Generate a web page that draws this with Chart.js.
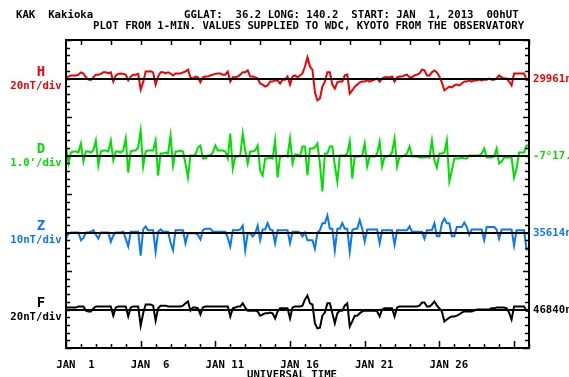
<!DOCTYPE html>
<html>
<head>
<meta charset="utf-8">
<style>
  html, body { margin: 0; padding: 0; background: #fff; }
  canvas { display: block; }
</style>
<script src="https://cdn.jsdelivr.net/npm/chart.js@4.4.1/dist/chart.umd.min.js"></script>
</head>
<body>
<canvas id="magChart" width="569" height="377"></canvas>
<script>
// KAK Kakioka, January 2013 - values every 4 hours (deviation from base value)
const STEP_HOURS = 4;
const TOTAL_HOURS = 744;

const H_NT = [
  3,5,8,8,8,10,16,13,3,-3,
  -4,3,10,10,12,16,16,14,16,-8,
  8,12,13,12,10,-5,5,10,10,12,
  -29,-10,18,18,19,16,-16,5,16,16,
  14,16,13,8,13,13,13,16,18,23,
  3,0,5,3,-10,3,5,5,8,10,
  12,13,13,10,10,18,-8,3,3,5,
  10,16,16,21,5,5,3,0,-13,-16,
  -21,-18,-8,-8,-5,-5,-13,-3,-3,5,
  -16,5,8,3,8,13,31,55,31,23,
  -36,-57,-52,-21,-8,16,16,-16,-26,-10,
  -8,-8,8,10,-39,-31,-21,-16,-10,-8,
  -8,-5,-8,-5,-3,0,-8,0,3,3,
  3,5,-8,3,5,5,8,10,3,3,
  8,10,13,23,21,8,8,16,21,16,
  5,-10,-31,-26,-21,-23,-18,-16,-18,-13,
  -8,-8,-5,-8,-5,-5,-3,-5,-3,-3,
  0,-3,-3,0,8,3,0,0,-8,-18,
  13,13,13,13,13,-3,-3
];

const D_MIN = [
  1.30,-1.04,0.39,0.52,0.52,0.39,1.56,-0.78,0.52,0.52,
  0.39,0.65,1.95,-1.30,0.52,0.65,0.65,0.52,1.95,-0.65,
  0.52,0.52,0.39,0.65,2.21,-2.21,0.52,0.65,0.65,1.04,
  3.25,-1.43,0.52,0.65,0.65,0.65,1.95,-2.60,0.26,0.26,
  0.39,0.26,2.60,-1.30,0.52,0.52,0.65,0.52,-1.04,-2.86,
  0,0,0.13,1.04,1.30,-0.39,-0.39,0,0,0.39,
  1.30,0.65,0.65,0.65,0.52,-0.39,2.86,-1.69,-0.13,-0.13,
  0,2.86,0.65,-1.04,0.52,0.52,0.65,1.30,-1.95,-2.60,
  -0.39,-0.39,-0.26,-0.39,1.95,-2.86,-0.13,-0.13,0,-0.13,
  2.21,-1.04,0.13,0.13,-0.13,1.17,1.17,-2.60,0.91,0.91,
  1.04,1.56,-1.04,-4.68,0.26,0.26,1.17,1.17,-1.30,-3.38,
  0,0,0,0.26,1.82,-2.99,-0.13,-0.13,-0.13,0,
  1.56,-1.43,-0.13,-0.13,-0.13,0.26,1.82,-1.43,-0.13,-0.13,
  0,0.39,2.21,-1.43,-0.13,-0.13,0,0.26,1.17,-0.13,
  -0.13,-0.13,-0.26,-0.26,-0.26,-0.13,-0.26,1.95,-0.65,-1.56,
  0.26,0.26,0.39,1.95,-3.38,-1.95,-0.39,-0.39,-0.39,-0.26,
  -0.39,-0.39,0,0,0,0,0,0.26,0.91,-0.26,
  -0.26,-0.26,-0.13,0.91,-1.04,-0.78,-0.26,-0.26,-0.26,-0.26,
  -2.86,-1.69,0.39,0.39,0.39,1.30,1.30
];

const Z_NT = [
  -8,-1,0,0,0,0,-10,-7,0,0,
  1,3,-3,-8,0,0,0,0,-12,-4,
  0,0,0,1,-8,-18,1,1,1,1,
  -30,4,8,3,3,3,-25,1,4,1,
  1,1,-13,-23,3,3,3,3,-14,-1,
  -1,-1,-1,-3,-9,3,5,5,5,1,
  1,1,1,1,1,-7,-18,3,3,3,
  4,9,-23,-1,-1,-5,-1,9,-10,4,
  4,12,4,3,-14,3,3,3,3,3,
  -14,1,1,1,0,-5,0,-10,-10,-10,
  -21,0,3,12,12,22,5,5,-23,5,
  5,12,5,5,-25,3,5,5,16,5,
  -12,4,4,4,4,4,-14,3,3,3,
  3,3,-16,3,3,3,3,3,8,1,
  1,1,1,1,-8,3,3,3,12,-5,
  -5,12,18,12,12,-5,-5,7,7,7,
  13,7,-3,4,4,4,4,4,-10,7,
  7,7,7,4,-8,4,4,4,4,4,
  -17,3,3,3,3,-22,-22
];

const F_NT = [
  5,5,5,5,5,8,8,8,-3,-5,
  -5,3,8,8,8,8,8,8,8,-16,
  5,8,8,8,8,-18,5,8,8,8,
  -42,-10,13,13,13,10,-29,3,10,10,
  10,8,8,8,8,8,8,10,16,21,
  -3,5,5,3,-13,5,8,8,8,8,
  8,8,8,8,8,8,-18,3,5,8,
  8,16,5,-3,-3,-3,-3,-5,-16,-13,
  -10,-10,-8,-10,-23,-5,3,3,3,3,
  -23,5,8,8,8,10,26,36,16,13,
  -36,-49,-47,-16,-8,16,16,-10,-36,-10,
  -3,-3,10,16,-44,-31,-16,-16,-10,-5,
  -3,-3,-3,-3,-3,-5,-18,0,3,3,
  3,3,-18,5,8,8,8,8,8,8,
  8,8,10,18,18,8,8,13,21,10,
  3,-5,-31,-26,-21,-18,-18,-16,-13,-8,
  -5,-5,-5,-5,-3,0,0,0,0,0,
  0,3,3,5,5,5,5,3,-8,-26,
  8,8,8,8,8,-3,-3
];

const components = ['H', 'D', 'Z', 'F'];
const divLabels = ['20nT/div', "1.0'/div", '10nT/div', '20nT/div'];
const baseLabels = ['29961nT', "-7\u00b017.5'", '35614nT', '46840nT'];
const unitsPerDiv = [20, 1.0, 10, 20];
const colors = ['#f00000', '#00e000', '#0a78f0', '#000000'];
const dayLabels = ['JAN  1', 'JAN  6', 'JAN 11', 'JAN 16', 'JAN 21', 'JAN 26'];
const dayLabelDays = [1, 6, 11, 16, 21, 26];
const titleLeft = 'KAK  Kakioka';
const titleRight = 'GGLAT:  36.2 LONG: 140.2  START: JAN  1, 2013  00hUT';
const subTitle = 'PLOT FROM 1-MIN. VALUES SUPPLIED TO WDC, KYOTO FROM THE OBSERVATORY';
const xTitle = 'UNIVERSAL TIME';

const DIVS = 40;      // whole plot height in divisions
const PANEL_DIVS = 10;

const seriesData = [H_NT, D_MIN, Z_NT, F_NT];
const hours = H_NT.map((_, i) => i * STEP_HOURS);

const datasets = components.map((c, p) => ({
    label: c,
    data: seriesData[p].map((v, i) => ({ x: hours[i], y: v })),
    yAxisID: 'y' + c,
    borderColor: colors[p],
    borderWidth: 2,
    pointRadius: 0,
    tension: 0,
    fill: false
}));

const scales = { x: { type: 'linear', min: 0, max: TOTAL_HOURS, display: false } };
components.forEach((c, p) => {
    const above = PANEL_DIVS / 2 + PANEL_DIVS * p;
    scales['y' + c] = {
        type: 'linear',
        display: false,
        min: -(DIVS - above) * unitsPerDiv[p],
        max: above * unitsPerDiv[p]
    };
});

const FONT = 'bold 10.7px "DejaVu Sans Mono", "Liberation Mono", monospace';

const decorPlugin = {
    id: 'decor',
    afterDatasetsDraw(chart) {
        const { ctx, chartArea: a, scales: s } = chart;
        ctx.save();

        // base lines
        ctx.strokeStyle = '#000';
        ctx.lineWidth = 2;
        components.forEach(c => {
            const y = Math.round(s['y' + c].getPixelForValue(0));
            ctx.beginPath();
            ctx.moveTo(a.left, y);
            ctx.lineTo(a.right, y);
            ctx.stroke();
        });

        // frame
        ctx.strokeRect(a.left, a.top, a.right - a.left, a.bottom - a.top);

        // vertical ticks, one per division, longer at panel borders
        const yRef = s.yH;
        ctx.lineWidth = 1.5;
        for (let k = 0; k <= DIVS; k++) {
            const v = yRef.max - k * unitsPerDiv[0];
            const y = Math.round(yRef.getPixelForValue(v)) + 0.5;
            const len = (k % PANEL_DIVS === 0) ? 6 : 4;
            ctx.beginPath();
            ctx.moveTo(a.left, y); ctx.lineTo(a.left + len, y);
            ctx.moveTo(a.right, y); ctx.lineTo(a.right - len, y);
            ctx.stroke();
        }

        // time ticks: bottom daily, longer every 5 days; top every 2 days
        for (let d = 0; d <= 31; d++) {
            const x = Math.round(s.x.getPixelForValue(d * 24)) + 0.5;
            const len = (d % 5 === 0) ? 7 : 4;
            ctx.beginPath();
            ctx.moveTo(x, a.bottom); ctx.lineTo(x, a.bottom - len);
            if (d % 2 === 1) { ctx.moveTo(x, a.top); ctx.lineTo(x, a.top + 5); }
            ctx.stroke();
        }

        // titles
        ctx.font = FONT;
        ctx.fillStyle = '#000';
        ctx.textBaseline = 'middle';
        ctx.textAlign = 'left';
        ctx.fillText(titleLeft, 16, 15);
        ctx.fillText(titleRight, 184, 15);
        ctx.fillText(subTitle, 93, 26);

        // component labels
        components.forEach((c, p) => {
            const y = s['y' + c].getPixelForValue(0);
            ctx.fillStyle = colors[p];
            ctx.textAlign = 'center';
            ctx.font = 'bold 14px "DejaVu Sans Mono", monospace';
            ctx.fillText(c, 41, y - 6);
            ctx.font = FONT;
            ctx.fillText(divLabels[p], 36, y + 8);
            ctx.textAlign = 'left';
            ctx.fillText(baseLabels[p], 533, y + 0.5);
        });

        // day labels
        ctx.fillStyle = '#000';
        ctx.textAlign = 'center';
        dayLabelDays.forEach((d, i) => {
            const x = s.x.getPixelForValue((d - 1) * 24);
            ctx.fillText(dayLabels[i], x + 9.5, 365.5);
        });
        ctx.textBaseline = 'top';
        ctx.fillText(xTitle, 292, 370);

        ctx.restore();
    }
};

new Chart(document.getElementById('magChart'), {
    type: 'line',
    data: { datasets },
    options: {
        responsive: false,
        animation: false,
        devicePixelRatio: 1,
        events: [],
        layout: { padding: { left: 66, right: 40, top: 40, bottom: 29 } },
        scales,
        plugins: { legend: { display: false }, tooltip: { enabled: false } }
    },
    plugins: [decorPlugin]
});
</script>
</body>
</html>
